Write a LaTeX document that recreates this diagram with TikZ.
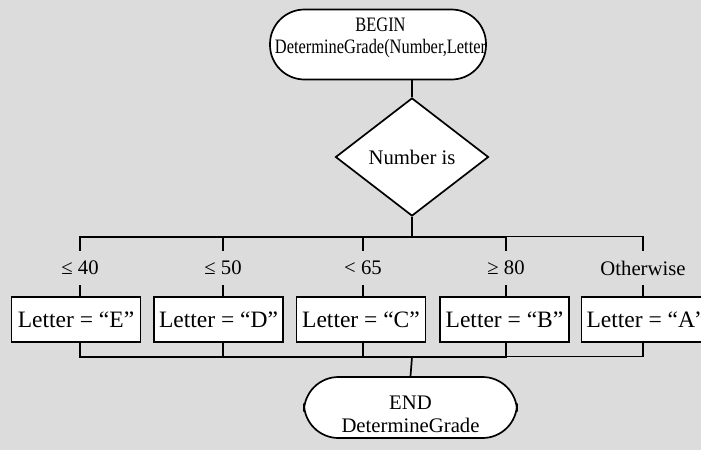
\documentclass[tikz,border=0pt]{standalone}
\usepackage{fontspec}
\setmainfont{Liberation Serif}
\newfontfamily\narrowserif[FakeStretch=0.8]{Liberation Serif}
\usetikzlibrary{shapes.geometric}
\definecolor{panel}{RGB}{220,220,220}
\tikzstyle{term}=[draw, fill=white, rounded corners=34.5pt, minimum height=70pt, inner sep=0pt]
\tikzstyle{dec}=[diamond, draw, fill=white, minimum width=153pt, minimum height=118pt, inner sep=0pt]
\tikzstyle{proc}=[draw, fill=white, minimum width=129pt, minimum height=45pt, inner sep=0pt, font=\fontsize{23.5}{26}\selectfont]
\tikzstyle{cond}=[minimum height=33pt, inner sep=0pt]

\begin{document}
\begin{tikzpicture}[x=1pt, y=-1pt, line width=1.7pt, font=\fontsize{20.7}{23}\selectfont]
            \fill[panel] (0,0) rectangle (701,450);
            \clip (0,0) rectangle (701,450);
            \node[term, minimum width=216pt] (begin) at (378,44.5) {};
            \node[align=center, font=\narrowserif\fontsize{20.5}{22}\selectfont] (begintext) at (380.5,37.5) {BEGIN\\DetermineGrade(Number,Letter};
            \node[dec] (test) at (412,157) {Number is};
            \node[cond] (l1) at (80,268) {≤ 40};
            \node[cond] (l2) at (223,268) {≤ 50};
            \node[cond] (l3) at (363,268) {< 65};
            \node[cond] (l4) at (506,268) {≥ 80};
            \node[cond] (l5) at (643,268) {Otherwise};
            \node[proc] (b1) at (76,319.5) {Letter = “E”};
            \node[proc] (b2) at (218.5,319.5) {Letter = “D”};
            \node[proc] (b3) at (361,319.5) {Letter = “C”};
            \node[proc] (b4) at (504.5,319.5) {Letter = “B”};
            \node[proc] (b5) at (646,319.5) {Letter = “A”};
            \node[term, minimum width=213pt, minimum height=61pt] (end) at (410.5,407.5) {};
            \node[align=center] (endtext) at (410.5,414) {END\\DetermineGrade};
            \coordinate (split) at (412,237);
            \coordinate (fork) at (499,236.4);
            \coordinate (join) at (412,357);
            \coordinate (merge) at (506,356.4);
            \draw (begin.south -| test.north) -- (test.north);
            \draw (test.south) -- (split);
            \draw (l1.north) -- (l1.north |- split) -- (l4.north |- split) -- (l4.north);
            \draw (l2.north) -- (l2.north |- split);
            \draw (l3.north) -- (l3.north |- split);
            \draw (l5.north) -- (l5.north |- fork) -- (fork);
            \foreach \i in {1,...,5}
                \draw (l\i.south) -- (l\i.south |- b\i.north);
            \draw (l1.south |- b1.south) -- (l1.south |- join) -- (l4.south |- join) -- (l4.south |- b4.south);
            \draw (l2.south |- b2.south) -- (l2.south |- join);
            \draw (l3.south |- b3.south) -- (l3.south |- join);
            \draw (l5.south |- b5.south) -- (l5.south |- merge) -- (merge);
            \draw (join) -- (end.north);
        \end{tikzpicture}
\end{document}
